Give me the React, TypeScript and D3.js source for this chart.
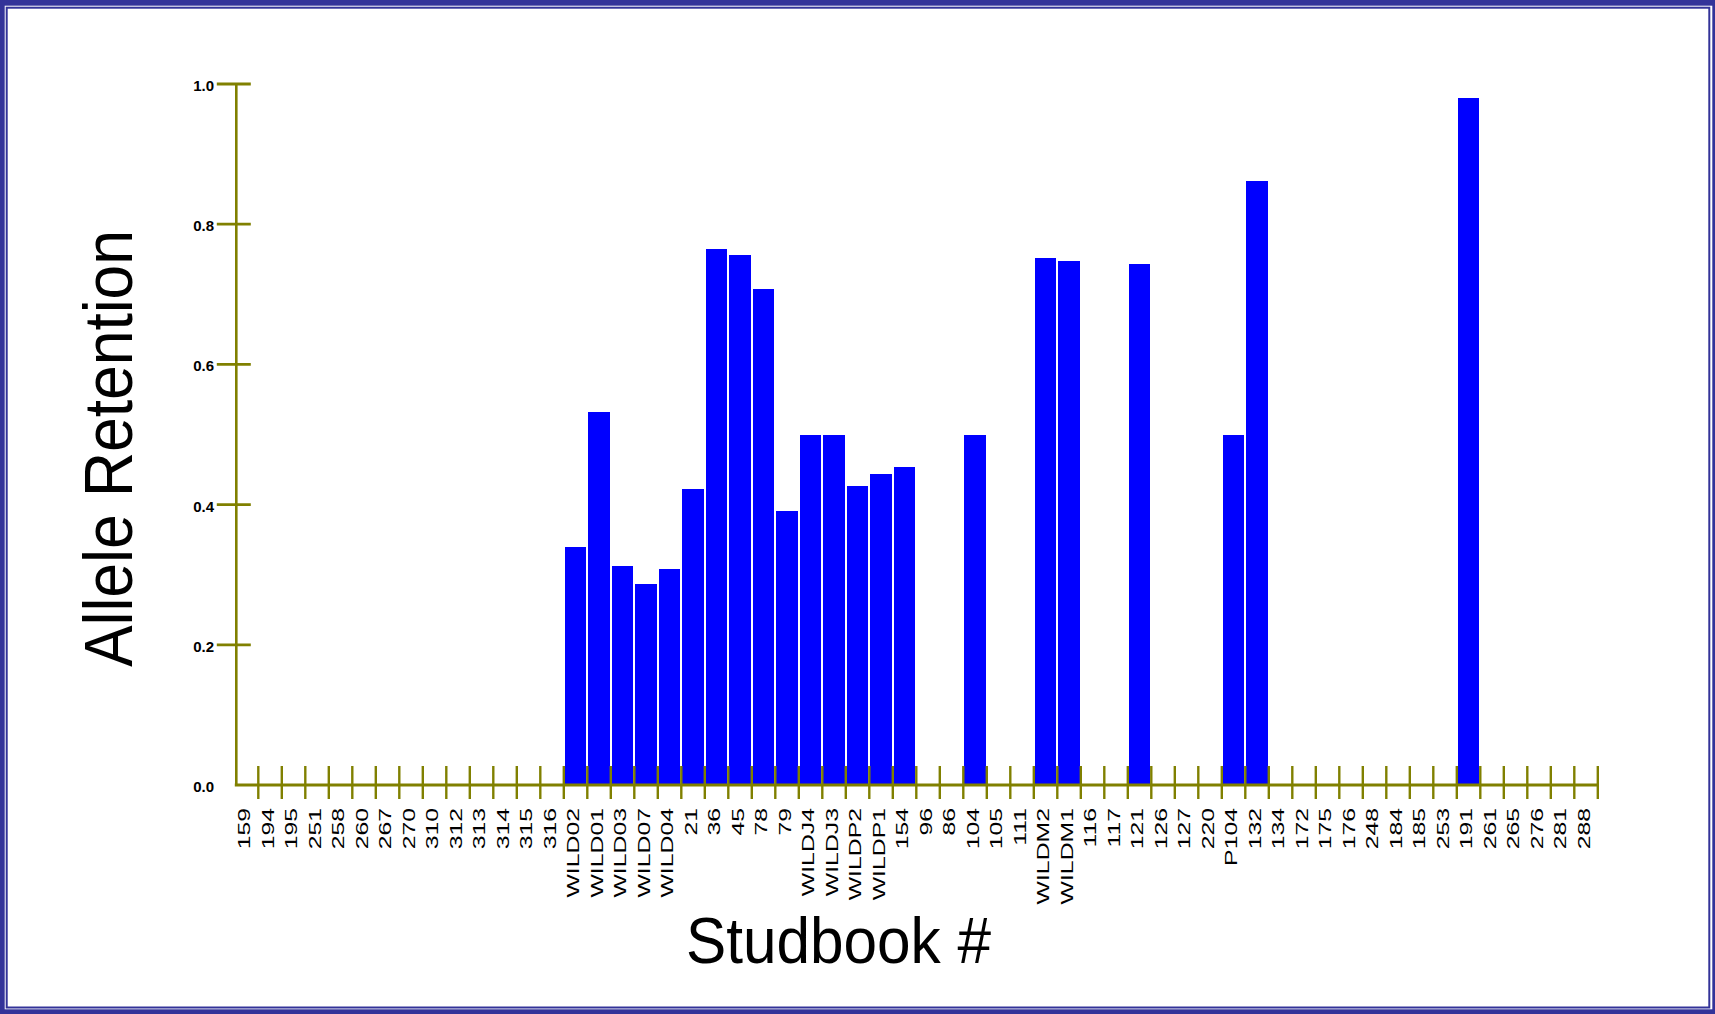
import React from "react";
import * as d3 from "d3";

const categories: string[] = [
  "159", "194", "195", "251", "258", "260", "267", "270", "310", "312",
  "313", "314", "315", "316", "WILD02", "WILD01", "WILD03", "WILD07", "WILD04", "21",
  "36", "45", "78", "79", "WILDJ4", "WILDJ3", "WILDP2", "WILDP1", "154", "96",
  "86", "104", "105", "111", "WILDM2", "WILDM1", "116", "117", "121", "126",
  "127", "220", "P104", "132", "134", "172", "175", "176", "248", "184",
  "185", "253", "191", "261", "265", "276", "281", "288",
];

const retention: number[] = [
  0, 0, 0, 0, 0, 0, 0, 0, 0, 0,
  0, 0, 0, 0, 0.34, 0.532, 0.312, 0.287, 0.308, 0.422,
  0.765, 0.756, 0.708, 0.391, 0.5, 0.5, 0.427, 0.444, 0.454, 0,
  0, 0.5, 0, 0, 0.752, 0.748, 0, 0, 0.743, 0,
  0, 0, 0.5, 0.862, 0, 0, 0, 0, 0, 0,
  0, 0, 0.98, 0, 0, 0, 0, 0,
];

const yTickValues: number[] = [0, 0.2, 0.4, 0.6, 0.8, 1.0];
const xTitle = "Studbook #";
const yTitle = "Allele Retention";

export default function App() {
  const W = 1715;
  const H = 1014;
  const x = d3.scaleBand<string>().domain(categories).range([234.8, 1597.8]).padding(0);
  const y = d3.scaleLinear().domain([0, 1]).range([785, 84]);
  const bw = x.bandwidth();
  const olive = "#808000";
  const frame = "#333399";
  const fmt = d3.format(".1f");
  const axisX = x.range()[0] + 1.5;
  const font = "'Liberation Sans', Arial, sans-serif";

  return (
    <svg
      width={W}
      height={H}
      style={{ position: "absolute", left: 0, top: 0, display: "block" }}
      fontFamily={font}
    >
      {/* frame */}
      <rect x={0} y={0} width={W} height={H} fill={frame} />
      <rect x={4.7} y={5.7} width={1712.3 - 4.7} height={1009.3 - 5.7} fill="#ffffff" />
      <rect x={6.7} y={7.7} width={1702.6} height={999.8} fill="#ffffff" stroke={frame} strokeWidth={2} />

      {/* bars */}
      {categories.map((c, i) =>
        retention[i] > 0 ? (
          <rect
            key={"b" + c}
            x={(x(c) as number) + 1}
            y={y(retention[i])}
            width={bw - 2}
            height={y(0) - y(retention[i])}
            fill="#0000ff"
            shapeRendering="crispEdges"
          />
        ) : null
      )}

      {/* y axis */}
      <line x1={axisX} x2={axisX} y1={y(1)} y2={y(0)} stroke={olive} strokeWidth={2.6} />
      {yTickValues
        .filter((v) => v > 0)
        .map((v) => (
          <line
            key={"yt" + v}
            x1={axisX - 19.5}
            x2={axisX + 14.5}
            y1={y(v)}
            y2={y(v)}
            stroke={olive}
            strokeWidth={2.8}
          />
        ))}
      {yTickValues.map((v) => (
        <text
          key={"yl" + v}
          x={214}
          y={y(v) + 1.5}
          textAnchor="end"
          dominantBaseline="central"
          fontSize={15}
          fontWeight="bold"
          fill="#000"
        >
          {fmt(v)}
        </text>
      ))}

      {/* x axis */}
      <line x1={x.range()[0]} x2={x.range()[1] + 1.2} y1={y(0)} y2={y(0)} stroke={olive} strokeWidth={2.8} />
      {categories.map((c) => {
        const tx = (x(c) as number) + bw;
        return (
          <line key={"xt" + c} x1={tx} x2={tx} y1={y(0) - 19} y2={y(0) + 14} stroke={olive} strokeWidth={2.4} />
        );
      })}
      {categories.map((c) => {
        const cx = (x(c) as number) + bw / 2 + 3.5;
        return (
          <text
            key={"xl" + c}
            transform={`translate(${cx},808) rotate(-90) scale(1.55,1)`}
            textAnchor="end"
            fontSize={16}
            fill="#000"
          >
            {c}
          </text>
        );
      })}

      {/* titles */}
      <text
        transform="translate(132,448.5) rotate(-90)"
        textAnchor="middle"
        fontSize={69}
        textLength={437}
        lengthAdjust="spacingAndGlyphs"
        fill="#000"
      >
        {yTitle}
      </text>
      <text
        x={838.5}
        y={963}
        textAnchor="middle"
        fontSize={65}
        textLength={305}
        lengthAdjust="spacingAndGlyphs"
        fill="#000"
      >
        {xTitle}
      </text>
    </svg>
  );
}
